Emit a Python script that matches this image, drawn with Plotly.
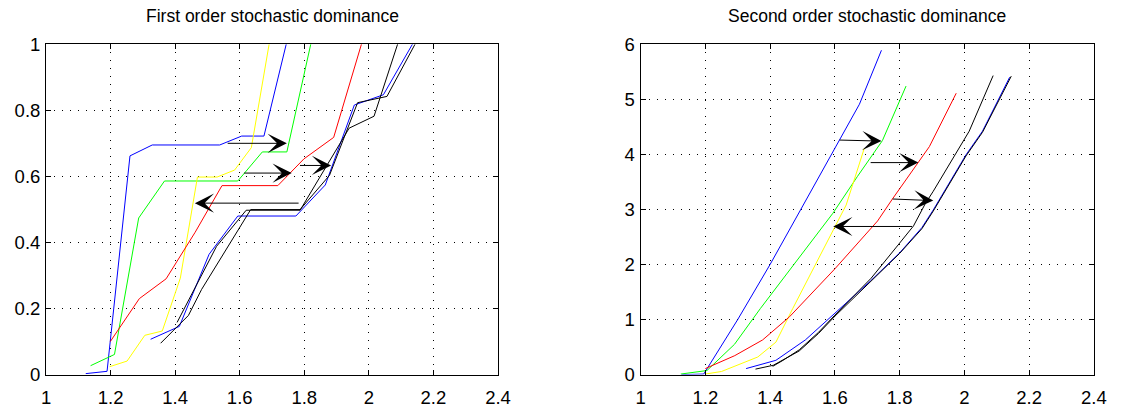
import plotly.graph_objects as go

# ---------------- data: first order (CDFs) ----------------
fo_blue1_x = [1.123, 1.189, 1.260, 1.329, 1.538, 1.606, 1.675, 1.744]
fo_blue1_y = [0.003, 0.010, 0.662, 0.695, 0.695, 0.722, 0.722, 1.0]
fo_green_x = [1.138, 1.212, 1.287, 1.367, 1.594, 1.670, 1.746, 1.820]
fo_green_y = [0.027, 0.061, 0.474, 0.586, 0.586, 0.674, 0.674, 1.0]
fo_yellow_x = [1.197, 1.251, 1.306, 1.360, 1.416, 1.469, 1.530, 1.584, 1.636, 1.691]
fo_yellow_y = [0.024, 0.041, 0.119, 0.132, 0.292, 0.598, 0.598, 0.619, 0.687, 1.0]
fo_red_x = [1.199, 1.289, 1.372, 1.462, 1.545, 1.718, 1.799, 1.891, 1.977]
fo_red_y = [0.100, 0.230, 0.290, 0.431, 0.572, 0.572, 0.653, 0.718, 1.0]
fo_blue2_x = [1.324, 1.413, 1.505, 1.594, 1.774, 1.865, 1.955, 2.045, 2.135]
fo_blue2_y = [0.107, 0.146, 0.364, 0.480, 0.480, 0.574, 0.816, 0.847, 1.0]
fo_blackA_x = [1.355, 1.441, 1.482, 1.634, 1.787, 1.878, 1.965, 2.056, 2.143]
fo_blackA_y = [0.095, 0.179, 0.258, 0.4995, 0.4995, 0.603, 0.823, 0.842, 1.0]
fo_blackB_x = [1.406, 1.528, 1.620, 1.787, 1.939, 2.016, 2.089]
fo_blackB_y = [0.158, 0.388, 0.4975, 0.4975, 0.746, 0.782, 1.0]

# ---------------- data: second order (integrated CDFs) ----------------
so_blue1_x = [1.126, 1.195, 1.300, 1.400, 1.494, 1.600, 1.676, 1.744]
so_blue1_y = [0.0, 0.01, 1.0, 2.0, 2.99, 4.11, 4.91, 5.89]
so_green_x = [1.124, 1.205, 1.290, 1.370, 1.594, 1.670, 1.747, 1.820]
so_green_y = [0.01, 0.074, 0.55, 1.2, 2.93, 3.60, 4.25, 5.24]
so_yellow_x = [1.200, 1.250, 1.362, 1.418, 1.470, 1.635, 1.691]
so_yellow_y = [0.01, 0.057, 0.32, 0.59, 1.2, 3.08, 4.11]
so_red_x = [1.200, 1.291, 1.377, 1.460, 1.600, 1.732, 1.778, 1.813, 1.858, 1.892, 1.975]
so_red_y = [0.11, 0.345, 0.63, 1.05, 1.92, 2.79, 3.19, 3.48, 3.85, 4.14, 5.11]
so_blue2_x = [1.326, 1.418, 1.509, 1.600, 1.710, 1.800, 1.869, 1.904, 2.005, 2.056, 2.140]
so_blue2_y = [0.11, 0.26, 0.63, 1.12, 1.70, 2.21, 2.67, 2.99, 3.99, 4.42, 5.40]
so_blackA_x = [1.355, 1.410, 1.490, 1.550, 1.600, 1.710, 1.800, 1.869, 1.904, 2.005, 2.056, 2.145]
so_blackA_y = [0.10, 0.17, 0.43, 0.75, 1.06, 1.68, 2.20, 2.65, 2.97, 3.97, 4.40, 5.42]
so_blackB_x = [1.408, 1.440, 1.490, 1.550, 1.600, 1.712, 1.788, 1.843, 1.879, 1.904, 2.015, 2.089]
so_blackB_y = [0.15, 0.26, 0.45, 0.77, 1.08, 1.75, 2.30, 2.70, 3.10, 3.33, 4.42, 5.43]

# arrows: tail x, tail y, head x, head y
fo_arrow_tail_x = [1.558, 1.609, 1.782, 1.787]
fo_arrow_tail_y = [0.700, 0.610, 0.633, 0.519]
fo_arrow_head_x = [1.746, 1.761, 1.883, 1.461]
fo_arrow_head_y = [0.700, 0.610, 0.633, 0.519]
so_arrow_tail_x = [1.610, 1.706, 1.774, 1.843]
so_arrow_tail_y = [4.26, 3.85, 3.19, 2.69]
so_arrow_head_x = [1.744, 1.858, 1.904, 1.595]
so_arrow_head_y = [4.24, 3.85, 3.16, 2.69]

x_ticks = [1, 1.2, 1.4, 1.6, 1.8, 2, 2.2, 2.4]
x_ticktext = ["1", "1.2", "1.4", "1.6", "1.8", "2", "2.2", "2.4"]
fo_y_ticks = [0, 0.2, 0.4, 0.6, 0.8, 1]
fo_y_ticktext = ["0", "0.2", "0.4", "0.6", "0.8", "1"]
so_y_ticks = [0, 1, 2, 3, 4, 5, 6]
so_y_ticktext = ["0", "1", "2", "3", "4", "5", "6"]
titles = ["First order stochastic dominance", "Second order stochastic dominance"]

FONT = "Liberation Sans, Arial, Helvetica, sans-serif"

fig = go.Figure()

def add_line(x, y, color, xa, ya):
    fig.add_trace(go.Scatter(x=x, y=y, mode="lines", line=dict(color=color, width=1),
                             xaxis=xa, yaxis=ya, showlegend=False, hoverinfo="skip"))

fo_series = [(fo_blue1_x, fo_blue1_y, "#0000ff"), (fo_green_x, fo_green_y, "#00ff00"),
             (fo_yellow_x, fo_yellow_y, "#ffff00"), (fo_red_x, fo_red_y, "#ff0000"),
             (fo_blue2_x, fo_blue2_y, "#0000ff"), (fo_blackA_x, fo_blackA_y, "#000000"),
             (fo_blackB_x, fo_blackB_y, "#000000")]
for x, y, c in fo_series:
    add_line(x, y, c, "x", "y")

so_series = [(so_blue1_x, so_blue1_y, "#0000ff"), (so_green_x, so_green_y, "#00ff00"),
             (so_yellow_x, so_yellow_y, "#ffff00"), (so_red_x, so_red_y, "#ff0000"),
             (so_blue2_x, so_blue2_y, "#0000ff"), (so_blackA_x, so_blackA_y, "#000000"),
             (so_blackB_x, so_blackB_y, "#000000")]
for x, y, c in so_series:
    add_line(x, y, c, "x2", "y2")

annotations = []
def add_arrows(tx, ty, hx, hy, xr, yr):
    for a, b, c, d in zip(tx, ty, hx, hy):
        annotations.append(dict(x=c, y=d, ax=a, ay=b, xref=xr, yref=yr, axref=xr, ayref=yr,
                                text="", showarrow=True, arrowhead=3, arrowsize=3.2,
                                arrowwidth=1, arrowcolor="black", standoff=0))

add_arrows(fo_arrow_tail_x, fo_arrow_tail_y, fo_arrow_head_x, fo_arrow_head_y, "x", "y")
add_arrows(so_arrow_tail_x, so_arrow_tail_y, so_arrow_head_x, so_arrow_head_y, "x2", "y2")

W, H = 1127, 409
dom1 = [41.7 / W, 501.0 / W]
dom2 = [645.9 / W, 1106.5 / W]
ydom = [(H - 383.3) / H, (H - 35.0) / H]

for dom, t in zip([dom1, dom2], titles):
    annotations.append(dict(x=(dom[0] + dom[1]) / 2, y=(H - 5.0) / H, xref="paper", yref="paper",
                            text=t, showarrow=False, xanchor="center", yanchor="middle",
                            font=dict(family=FONT, size=17.5, color="black")))

axis_common = dict(showline=True, linecolor="black", linewidth=1, mirror="ticks",
                   ticks="inside", ticklen=5, tickwidth=1, tickcolor="black",
                   showgrid=True, gridcolor="black", gridwidth=1, griddash="1px,7px",
                   zeroline=False, tickfont=dict(family=FONT, size=18.5, color="black"))

fig.update_layout(
    width=W, height=H, margin=dict(l=0, r=0, t=0, b=0),
    paper_bgcolor="white", plot_bgcolor="white",
    xaxis=dict(domain=dom1, range=[1, 2.4], tickvals=x_ticks, ticktext=x_ticktext,
               anchor="y", ticklabelstandoff=6, **axis_common),
    yaxis=dict(domain=ydom, range=[0, 1], tickvals=fo_y_ticks, ticktext=fo_y_ticktext,
               anchor="x", ticklabelstandoff=1, **axis_common),
    xaxis2=dict(domain=dom2, range=[1, 2.4], tickvals=x_ticks, ticktext=x_ticktext,
                anchor="y2", ticklabelstandoff=6, **axis_common),
    yaxis2=dict(domain=ydom, range=[0, 6], tickvals=so_y_ticks, ticktext=so_y_ticktext,
                anchor="x2", ticklabelstandoff=1, **axis_common),
    annotations=annotations,
)

fig.write_html("out.html")
